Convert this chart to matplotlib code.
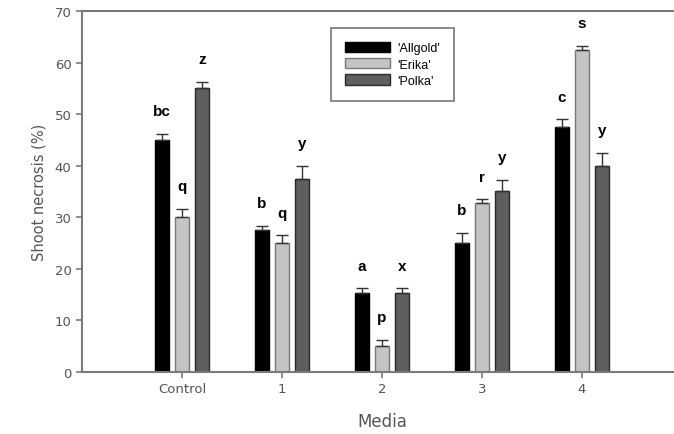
import numpy as np
import matplotlib
matplotlib.use('Agg')
import matplotlib.pyplot as plt

### DATA
media = ['Control', '1', '2', '3', '4']
cultivars = ["'Allgold'", "'Erika'", "'Polka'"]
allgold = [45.0, 27.5, 15.3, 25.0, 47.5]
erika = [30.0, 25.0, 5.0, 32.7, 62.5]
polka = [55.0, 37.5, 15.3, 35.0, 40.0]
allgold_err = [1.2, 0.8, 0.9, 2.0, 1.5]
erika_err = [1.7, 1.5, 1.3, 0.8, 0.8]
polka_err = [1.3, 2.5, 0.9, 2.2, 2.5]
allgold_let = ['bc', 'b', 'a', 'b', 'c']
erika_let = ['q', 'q', 'p', 'r', 's']
polka_let = ['z', 'y', 'x', 'y', 'y']

### STYLE
faces = ['#000000', '#c4c4c4', '#5e5e5e']
edges = ['#000000', '#7a7a7a', '#2a2a2a']

fig = plt.figure(figsize = [6.74, 4.35], dpi = 100)
ax = fig.add_axes([0.1217, 0.1425, 0.89, 0.83])

x = np.arange(len(media))
w = 0.14
off = 0.2
series = [allgold, erika, polka]
errs = [allgold_err, erika_err, polka_err]
lets = [allgold_let, erika_let, polka_let]

for k in range(3):
	xs = x + (k - 1) * off
	ax.bar(xs, series[k], w, color = faces[k], edgecolor = edges[k],
		linewidth = 1.0, label = cultivars[k], zorder = 2)
	ax.errorbar(xs, series[k], yerr = [np.zeros(len(media)), errs[k]],
		fmt = 'none', ecolor = '#333333', elinewidth = 1.0, capsize = 4,
		capthick = 1.0, zorder = 3)
	for xi, v, e, t in zip(xs, series[k], errs[k], lets[k]):
		ax.text(xi, v + e + 4.4, t, ha = 'center', va = 'center',
			fontsize = 11, fontweight = 'bold', family = 'Liberation Sans')

ax.set_xlim(-1, 5)
ax.set_ylim(0, 70)
ax.set_yticks(np.arange(0, 71, 10))
ax.set_xticks(x)
ax.set_xticklabels(media)

for s in ['left', 'bottom', 'top', 'right']:
	ax.spines[s].set_color('#7a7a7a')
	ax.spines[s].set_linewidth(1.5)
ax.tick_params(axis = 'both', colors = '#7a7a7a', labelcolor = '#555555',
	labelsize = 9.5, length = 4, width = 1.2)

ax.set_ylabel('Shoot necrosis (%)', fontsize = 10.5, color = '#555555', labelpad = 6)
ax.set_xlabel('Media', fontsize = 12, color = '#555555', labelpad = 12)

leg = ax.legend(loc = 'upper left', bbox_to_anchor = (0.405, 0.97),
	frameon = True, fancybox = False, handlelength = 3.6,
	handleheight = 0.9, handletextpad = 0.6, labelspacing = 0.3,
	borderpad = 1.1, prop = {'family': 'Liberation Sans', 'size': 9})
leg.get_frame().set_edgecolor('#555555')
leg.get_frame().set_linewidth(1.2)

fig.savefig('out.png', dpi = 100)
